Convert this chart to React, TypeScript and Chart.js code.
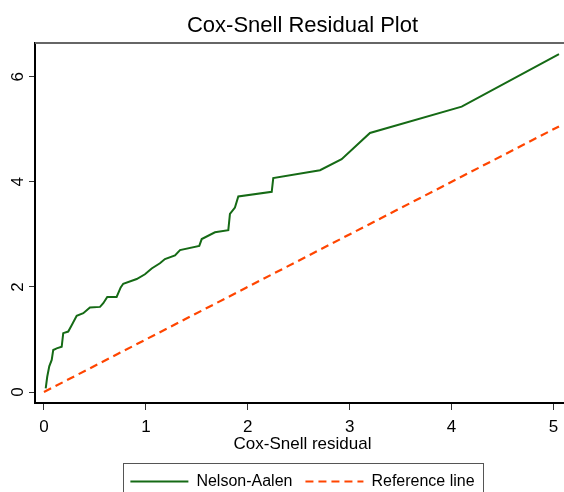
import { useEffect, useRef } from "react";
import { Chart, registerables } from "chart.js";

Chart.register(...registerables);

// Cox-Snell residuals (x) and Nelson-Aalen cumulative hazard (y)
const residualX = [
  0.017, 0.032, 0.052, 0.076, 0.091, 0.125, 0.174, 0.189, 0.238, 0.272,
  0.321, 0.386, 0.451, 0.55, 0.582, 0.621, 0.713, 0.753, 0.778, 0.91,
  0.991, 1.057, 1.138, 1.187, 1.286, 1.335, 1.524, 1.548, 1.678, 1.809,
  1.825, 1.874, 1.907, 2.235, 2.25, 2.709, 2.921, 3.199, 4.099, 5.054,
];
const nelsonAalenY = [
  0.07, 0.29, 0.49, 0.61, 0.8, 0.83, 0.86, 1.12, 1.15, 1.27,
  1.45, 1.5, 1.61, 1.62, 1.69, 1.81, 1.81, 1.99, 2.06, 2.15,
  2.24, 2.35, 2.45, 2.53, 2.6, 2.7, 2.78, 2.91, 3.04, 3.08,
  3.39, 3.51, 3.72, 3.81, 4.07, 4.22, 4.43, 4.93, 5.43, 6.43,
];
const referenceX = [0, 5.054];
const referenceY = [0, 5.054];

const xTicks = [0, 1, 2, 3, 4, 5];
const yTicks = [0, 2, 4, 6];
const seriesLabels = ["Nelson-Aalen", "Reference line"];
const chartTitle = "Cox-Snell Residual Plot";
const xAxisTitle = "Cox-Snell residual";

const FONT = "'Liberation Sans', Arial, Helvetica, sans-serif";

const framePlugin = {
  id: "frame",
  afterDraw(chart: any) {
    const { ctx, chartArea } = chart;
    ctx.save();
    ctx.strokeStyle = "#666666";
    ctx.lineWidth = 2;
    ctx.beginPath();
    ctx.moveTo(chartArea.left, chartArea.top);
    ctx.lineTo(chartArea.right, chartArea.top);
    ctx.lineTo(chartArea.right, chartArea.bottom);
    ctx.stroke();
    // legend border
    const lg = chart.legend;
    if (lg && lg.legendHitBoxes && lg.legendHitBoxes.length) {
      const hb = lg.legendHitBoxes;
      const first = hb[0];
      const last = hb[hb.length - 1];
      const left = first.left - 7;
      const right = last.left + last.width + 9;
      const top = lg.top + 2;
      ctx.strokeStyle = "#555555";
      ctx.lineWidth = 1;
      ctx.strokeRect(Math.round(left) + 0.5, Math.round(top) + 0.5, Math.round(right - left), 80);
    }
    ctx.restore();
  },
};

export default function App() {
  const ref = useRef<HTMLCanvasElement | null>(null);

  useEffect(() => {
    if (!ref.current) return;
    const na = residualX.map((x, i) => ({ x, y: nelsonAalenY[i] }));
    const rl = referenceX.map((x, i) => ({ x, y: referenceY[i] }));
    const chart = new Chart(ref.current, {
      type: "scatter",
      data: {
        datasets: [
          {
            label: seriesLabels[0],
            data: na,
            showLine: true,
            borderColor: "#156a15",
            backgroundColor: "#156a15",
            borderWidth: 2,
            pointRadius: 0,
            pointHoverRadius: 0,
            tension: 0,
          },
          {
            label: seriesLabels[1],
            data: rl,
            showLine: true,
            borderColor: "#ff4500",
            backgroundColor: "#ff4500",
            borderWidth: 2.2,
            borderDash: [8, 5],
            pointRadius: 0,
            pointHoverRadius: 0,
          },
        ],
      },
      plugins: [framePlugin],
      options: {
        responsive: false,
        animation: false,
        devicePixelRatio: 1,
        layout: { padding: { left: 0, right: 34, top: 0, bottom: 0.5 } },
        plugins: {
          tooltip: { enabled: false },
          title: {
            display: true,
            fullSize: false,
            text: chartTitle,
            color: "#000",
            font: { family: FONT, size: 22, weight: "normal" },
            padding: { top: 13, bottom: 3.6 },
          },
          legend: {
            display: true,
            fullSize: false,
            position: "bottom",
            labels: {
              color: "#000",
              font: { family: FONT, size: 16 },
              usePointStyle: true,
              pointStyle: "line",
              pointStyleWidth: 58,
              padding: 13,
              generateLabels: (c: any) => {
                const items = (Chart as any).defaults.plugins.legend.labels.generateLabels(c);
                items.forEach((it: any) => {
                  const ds: any = c.data.datasets[it.datasetIndex];
                  it.lineDash = ds.borderDash || [];
                  it.lineWidth = ds.borderWidth;
                  it.strokeStyle = ds.borderColor;
                  it.fillStyle = ds.borderColor;
                  it.pointStyle = "line";
                  it.lineCap = "butt";
                });
                return items;
              },
            },
          },
        },
        scales: {
          x: {
            type: "linear",
            min: -0.088,
            max: 5.162,
            afterBuildTicks: (s: any) => {
              s.ticks = xTicks.map((v) => ({ value: v }));
            },
            afterFit: (s: any) => {
              s.height = 57.5;
            },
            ticks: {
              color: "#000",
              font: { family: FONT, size: 17 },
              padding: 7,
              maxRotation: 0,
              autoSkip: false,
            },
            grid: {
              drawOnChartArea: false,
              drawTicks: true,
              tickLength: 7,
              color: "#333",
              lineWidth: 1,
            },
            border: { display: true, color: "#000", width: 2 },
            title: {
              display: true,
              text: xAxisTitle,
              color: "#000",
              font: { family: FONT, size: 17 },
              padding: { top: 0, bottom: 6.3 },
            },
          },
          y: {
            type: "linear",
            min: -0.209,
            max: 6.641,
            afterBuildTicks: (s: any) => {
              s.ticks = yTicks.map((v) => ({ value: v }));
            },
            afterFit: (s: any) => {
              s.width = 35;
            },
            ticks: {
              color: "#000",
              font: { family: FONT, size: 17 },
              padding: 6,
              minRotation: 90,
              maxRotation: 90,
              crossAlign: "center",
              autoSkip: false,
            },
            grid: {
              drawOnChartArea: false,
              drawTicks: true,
              tickLength: 6,
              color: "#333",
              lineWidth: 1,
            },
            border: { display: true, color: "#000", width: 2 },
          },
        },
      },
    } as any);
    return () => chart.destroy();
  }, []);

  return (
    <div
      style={{
        position: "fixed",
        left: 0,
        top: 0,
        width: 564,
        height: 492,
        overflow: "hidden",
        background: "#fff",
      }}
    >
      <canvas ref={ref} width={604} height={500} style={{ width: 604, height: 500, display: "block" }} />
    </div>
  );
}
